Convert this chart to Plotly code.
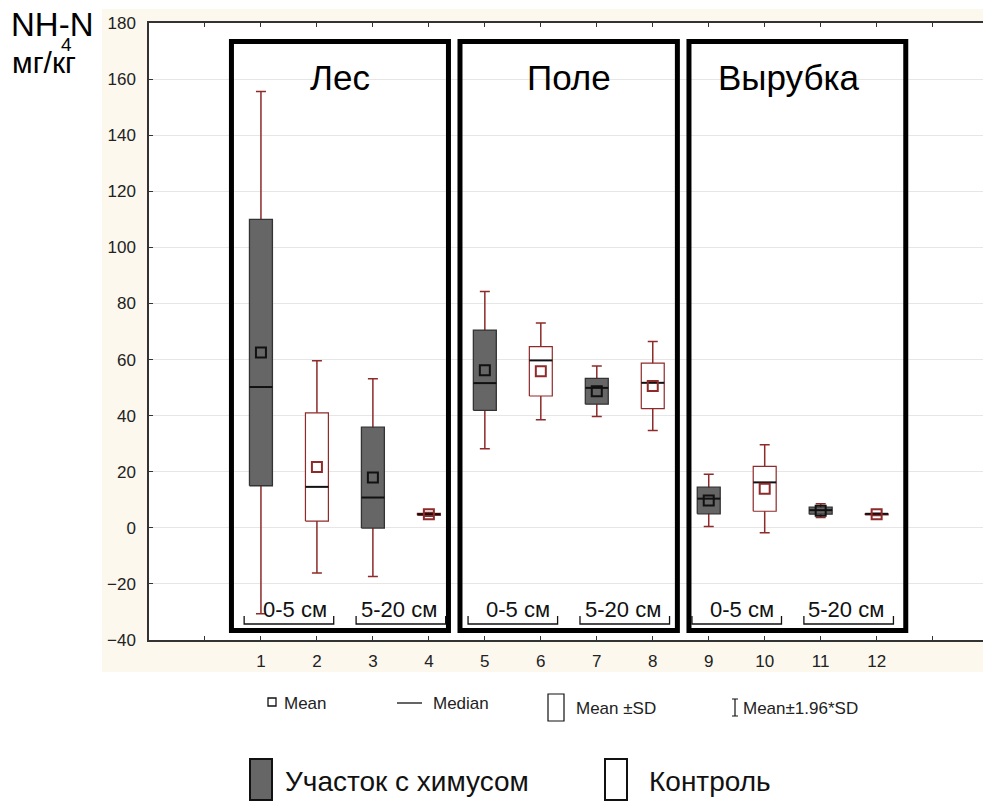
import plotly.graph_objects as go

# ---------------- data ----------------
positions = list(range(1, 13))
tick_labels = [str(p) for p in positions]
means = [62.5, 21.7, 17.9, 4.8, 56.2, 55.8, 48.7, 50.6, 9.75, 13.9, 6.1, 4.8]
sds = [47.5, 19.3, 18.0, 0.35, 14.3, 8.8, 4.6, 8.1, 4.75, 8.0, 1.25, 0.2]
medians = [50.2, 14.6, 10.8, 4.9, 51.6, 59.7, 49.9, 51.7, 10.4, 16.2, 6.3, 5.0]
is_treated = [True, False] * 6
groups = ["Лес", "Поле", "Вырубка"]
depths = ["0-5 см", "5-20 см"]
legend_labels = ["Mean", "Median", "Mean ±SD", "Mean±1.96*SD"]
series_labels = ["Участок с химусом", "Контроль"]

# ---------------- style ----------------
RED = "#8e2a2a"
DARK = "#666666"
EDGE = "#333333"
FONT = "Liberation Sans, Arial, sans-serif"
HW = 0.205  # half box width (data units)

W, H = 983, 801
ML, MR, MT, MB = 149, 0, 23, 161
PW, PH = W - ML - MR, H - MT - MB


def px(x):
    return (x - ML) / PW


def py(y):
    return (H - MB - y) / PH


fig = go.Figure()

# whiskers (mean ± 1.96 SD)
fig.add_trace(go.Scatter(
    x=positions, y=means, mode="markers",
    marker=dict(size=1, opacity=0),
    error_y=dict(type="data", array=[1.96 * s for s in sds], visible=True,
                 color=RED, thickness=1.5, width=5),
    hoverinfo="skip"))


def rects(sel):
    xs, ys = [], []
    for p, m, s, t in zip(positions, means, sds, is_treated):
        if t != sel:
            continue
        lo, hi = m - s, m + s
        xs += [p - HW, p + HW, p + HW, p - HW, p - HW, None]
        ys += [lo, lo, hi, hi, lo, None]
    return xs, ys


xs, ys = rects(True)
fig.add_trace(go.Scatter(x=xs, y=ys, mode="lines", fill="toself",
                         fillcolor=DARK, line=dict(color=EDGE, width=1.3),
                         hoverinfo="skip"))
xs, ys = rects(False)
fig.add_trace(go.Scatter(x=xs, y=ys, mode="lines", fill="toself",
                         fillcolor="white", line=dict(color=RED, width=1.2),
                         hoverinfo="skip"))

# medians
mx, my = [], []
for p, md in zip(positions, medians):
    mx += [p - HW, p + HW, None]
    my += [md, md, None]
fig.add_trace(go.Scatter(x=mx, y=my, mode="lines",
                         line=dict(color="#111111", width=2), hoverinfo="skip"))

# means
for sel, col in [(True, "#111111"), (False, RED)]:
    fig.add_trace(go.Scatter(
        x=[p for p, t in zip(positions, is_treated) if t == sel],
        y=[m for m, t in zip(means, is_treated) if t == sel],
        mode="markers",
        marker=dict(symbol="square-open", size=10, color=col,
                    line=dict(width=2, color=col)),
        hoverinfo="skip"))

shapes = []
annotations = []

# backgrounds
shapes.append(dict(type="rect", xref="paper", yref="paper",
                   x0=px(102), x1=px(983), y0=py(672), y1=py(9),
                   fillcolor="#fcf8ee", line=dict(width=0), layer="below"))
shapes.append(dict(type="rect", xref="paper", yref="paper",
                   x0=0, x1=1, y0=0, y1=1,
                   fillcolor="white", line=dict(width=0), layer="below"))

# group frames
frames = [(0.473, 4.35), (4.556, 8.44), (8.647, 12.52)]
title_x = [2.41, 6.5, 10.44]
for (x0, x1), g, tx in zip(frames, groups, title_x):
    shapes.append(dict(type="rect", xref="x", yref="y", x0=x0, x1=x1,
                       y0=-36.6, y1=173.4, line=dict(color="black", width=5),
                       layer="above"))
    annotations.append(dict(x=tx, y=160.5, xref="x", yref="y", text=g,
                            showarrow=False, font=dict(size=35, color="black",
                                                       family=FONT)))

# depth brackets
text_shift = [0.1, -0.04]
for gi in range(3):
    for di, d in enumerate(depths):
        c = 1.5 + 4 * gi + 2 * di
        shapes.append(dict(type="path", xref="x", yref="y",
                           path=f"M {c-0.8},-31.4 L {c-0.8},-34.3 L {c+0.8},-34.3 L {c+0.8},-31.4",
                           line=dict(color="#111111", width=1.3)))
        annotations.append(dict(x=c + text_shift[di], y=-29.3, xref="x", yref="y",
                                text=d, showarrow=False,
                                font=dict(size=22, color="#111111", family=FONT)))

# y-axis title
annotations.append(dict(x=px(9), y=py(24), xref="paper", yref="paper",
                        xanchor="left", yanchor="middle", text="NH-N",
                        showarrow=False, font=dict(size=33, color="black", family=FONT)))
annotations.append(dict(x=px(66), y=py(44), xref="paper", yref="paper",
                        xanchor="center", yanchor="middle", text="4",
                        showarrow=False, font=dict(size=19, color="black", family=FONT)))
annotations.append(dict(x=px(10), y=py(63), xref="paper", yref="paper",
                        xanchor="left", yanchor="middle", text="мг/кг",
                        showarrow=False, font=dict(size=30, color="black", family=FONT)))

# statistics legend
lf = dict(size=17, color="#222222", family=FONT)
shapes.append(dict(type="rect", xref="paper", yref="paper",
                   x0=px(268), x1=px(276), y0=py(706), y1=py(698),
                   line=dict(color="#111111", width=1.3)))
annotations.append(dict(x=px(282), y=py(703), xref="paper", yref="paper",
                        xanchor="left", yanchor="middle", text=legend_labels[0],
                        showarrow=False, font=lf))
shapes.append(dict(type="line", xref="paper", yref="paper",
                   x0=px(397), x1=px(422), y0=py(703), y1=py(703),
                   line=dict(color="#111111", width=1.3)))
annotations.append(dict(x=px(431), y=py(703), xref="paper", yref="paper",
                        xanchor="left", yanchor="middle", text=legend_labels[1],
                        showarrow=False, font=lf))
shapes.append(dict(type="rect", xref="paper", yref="paper",
                   x0=px(548), x1=px(564), y0=py(721), y1=py(694),
                   line=dict(color="#111111", width=1.2)))
annotations.append(dict(x=px(574), y=py(708), xref="paper", yref="paper",
                        xanchor="left", yanchor="middle", text=legend_labels[2],
                        showarrow=False, font=lf))
shapes.append(dict(type="path", xref="paper", yref="paper",
                   path=(f"M {px(732)},{py(699)} L {px(738)},{py(699)} "
                         f"M {px(735)},{py(699)} L {px(735)},{py(716)} "
                         f"M {px(732)},{py(716)} L {px(738)},{py(716)}"),
                   line=dict(color="#111111", width=1.2)))
annotations.append(dict(x=px(741), y=py(708), xref="paper", yref="paper",
                        xanchor="left", yanchor="middle", text=legend_labels[3],
                        showarrow=False, font=lf))

# series legend
bf = dict(size=28, color="#111111", family=FONT)
shapes.append(dict(type="rect", xref="paper", yref="paper",
                   x0=px(250), x1=px(272), y0=py(800), y1=py(759),
                   fillcolor=DARK, line=dict(color="#111111", width=2)))
annotations.append(dict(x=px(283), y=py(781), xref="paper", yref="paper",
                        xanchor="left", yanchor="middle", text=series_labels[0],
                        showarrow=False, font=bf))
shapes.append(dict(type="rect", xref="paper", yref="paper",
                   x0=px(605), x1=px(627), y0=py(800), y1=py(759),
                   fillcolor="white", line=dict(color="#111111", width=2)))
annotations.append(dict(x=px(647), y=py(781), xref="paper", yref="paper",
                        xanchor="left", yanchor="middle", text=series_labels[1],
                        showarrow=False, font=bf))

tickfont = dict(size=17, color="#222222", family=FONT)
fig.update_layout(
    width=W, height=H,
    margin=dict(l=ML, r=MR, t=MT, b=MB, pad=0),
    paper_bgcolor="white", plot_bgcolor="white",
    showlegend=False,
    shapes=shapes, annotations=annotations,
    font=dict(family=FONT),
    xaxis=dict(range=[-1, 13.9], tickvals=[0] + positions + [13],
               ticktext=[""] + tick_labels + [""],
               ticks="inside", ticklen=4, tickwidth=1.2, tickcolor="#333333",
               showline=True, linecolor="#333333", linewidth=1.5,
               mirror="ticks", showgrid=False, zeroline=False,
               tickfont=tickfont, ticklabelstandoff=5),
    yaxis=dict(range=[-40, 180], tickvals=list(range(-40, 181, 20)),
               ticks="inside", ticklen=4, tickwidth=1.2, tickcolor="#333333",
               showline=True, linecolor="#333333", linewidth=1.5,
               showgrid=True, gridcolor="#e6e6e6", gridwidth=1,
               zeroline=False, tickfont=tickfont, ticklabelstandoff=8),
)

fig.write_html("out.html")
